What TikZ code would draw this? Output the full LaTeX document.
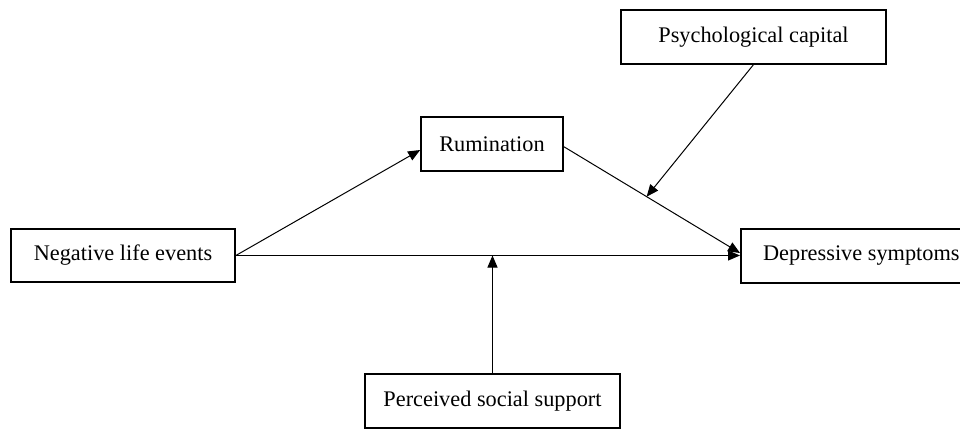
\documentclass[tikz,border=0pt]{standalone}
\usepackage{fontspec}
\setmainfont{Liberation Serif}
\usetikzlibrary{arrows.meta, calc}

\begin{document}
\begin{tikzpicture}[x=0.02cm, y=-0.02cm]
  \tikzset{
    box/.style={draw, line width=0.35mm, minimum height=1.07cm, inner sep=0pt,
      font=\fontsize{12.7}{15}\selectfont},
    link/.style={line width=0.2mm, -{Triangle[length=2.4mm, width=2mm]}}
  }
  \useasboundingbox (0,0) rectangle (960,430);

  \coordinate (n) at (123, 255.5);
  \coordinate (r) at (492, 144);
  \coordinate (p) at (753.5, 37);
  \coordinate (d) at (740, 256);
  \coordinate (s) at (492.5, 401);

  \node[box, minimum width=4.48cm] (neg) at (n) {Negative life events};
  \node[box, minimum width=2.84cm] (rum) at (r) {Rumination};
  \node[box, minimum width=5.3cm]  (psy) at (p) {Psychological capital};
  \node[box, minimum width=4.82cm, anchor=west] (dep) at (d) {Depressive symptoms};
  \node[box, minimum width=5.1cm]  (pss) at (s) {Perceived social support};

  \draw[link] (neg.east) -- ($(rum.west)+(0,6)$);
  \draw[link] ($(rum.east)+(0,2.7)$) -- coordinate[pos=0.47] (m) ($(dep.west)+(0,-3)$);
  \draw[link] (neg.east) -- (dep.west |- neg.east);
  \draw[link] (psy.south) -- (m);
  \draw[link] (pss.north) -- (pss.north |- neg.east);
\end{tikzpicture}
\end{document}
